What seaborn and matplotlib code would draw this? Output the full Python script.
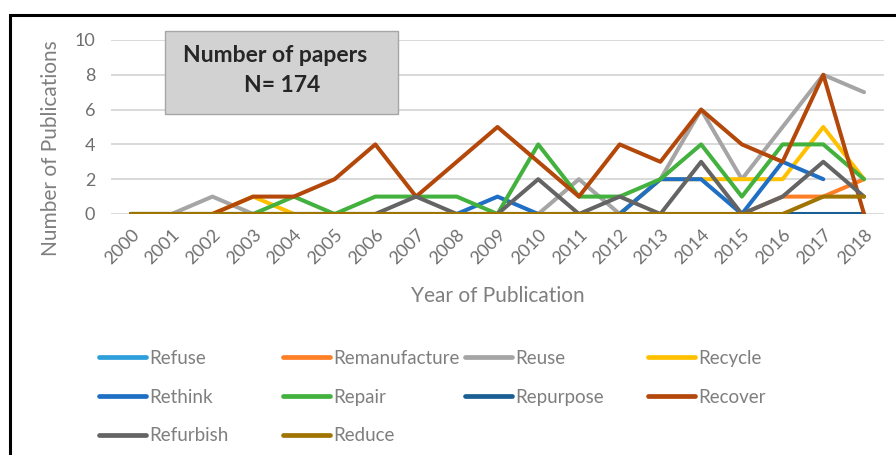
import numpy as np
import pandas as pd
import matplotlib.pyplot as plt
import seaborn as sns
from matplotlib.lines import Line2D
from matplotlib.patches import Rectangle

# ---------------------------
# Data
# ---------------------------
years = [2000, 2001, 2002, 2003, 2004, 2005, 2006, 2007, 2008, 2009,
         2010, 2011, 2012, 2013, 2014, 2015, 2016, 2017, 2018]

refuse        = [0, 0, 0, 0, 0, 0, 0, 0, 0, 0, 0, 0, 0, 0, 0, 0, 0, 0, 0]
remanufacture = [0, 0, 0, 0, 0, 0, 0, 0, 0, 0, 0, 0, 0, 0, 0, 0, 1, 1, 2]
reuse         = [0, 0, 1, 0, 0, 0, 0, 0, 0, 0, 0, 2, 0, 2, 6, 2, 5, 8, 7]
recycle       = [0, 0, 0, 1, 0, 0, 0, 0, 0, 0, 0, 0, 0, 2, 2, 2, 2, 5, 2]
rethink       = [0, 0, 0, 0, 0, 0, 0, 0, 0, 1, 0, 0, 0, 2, 2, 0, 3, 2, np.nan]
repair        = [0, 0, 0, 0, 1, 0, 1, 1, 1, 0, 4, 1, 1, 2, 4, 1, 4, 4, 2]
repurpose     = [0, 0, 0, 0, 0, 0, 0, 0, 0, 0, 0, 0, 0, 0, 0, 0, 0, 0, 0]
recover       = [0, 0, 0, 1, 1, 2, 4, 1, 3, 5, 3, 1, 4, 3, 6, 4, 3, 8, 0]
refurbish     = [0, 0, 0, 0, 0, 0, 0, 1, 0, 0, 2, 0, 1, 0, 3, 0, 1, 3, 1]
reduce        = [0, 0, 0, 0, 0, 0, 0, 0, 0, 0, 0, 0, 0, 0, 0, 0, 0, 1, 1]

series_names = ["Refuse", "Remanufacture", "Reuse", "Recycle", "Rethink",
                "Repair", "Repurpose", "Recover", "Refurbish", "Reduce"]
series_values = [refuse, remanufacture, reuse, recycle, rethink,
                 repair, repurpose, recover, refurbish, reduce]
colors = ["#2E9FDB", "#FF7F27", "#A5A5A5", "#FFC000", "#1F6FC5",
          "#43B13D", "#1A5F94", "#B4480A", "#646464", "#A07400"]

rows = []
for name, vals in zip(series_names, series_values):
    for y, v in zip(years, vals):
        rows.append({"Year": y, "Count": v, "R": name})
df = pd.DataFrame(rows)

# ---------------------------
# Plot
# ---------------------------
sns.set_style("white")
plt.rcParams["font.family"] = ["Lato", "DejaVu Sans"]
txt_gray = "#7F7F7F"

fig = plt.figure(figsize=(8.96, 4.55), dpi=100)
ax = fig.add_axes([110.6 / 896, 1 - 214 / 455, 773.8 / 896, 174 / 455])

sns.lineplot(data=df, x="Year", y="Count", hue="R", hue_order=series_names,
             palette=dict(zip(series_names, colors)), linewidth=2.9,
             errorbar=None, legend=False, ax=ax,
             solid_capstyle="round", solid_joinstyle="round", zorder=3)

ax.set_xlim(1999.5, 2018.5)
ax.set_ylim(0, 10)
ax.set_yticks([0, 2, 4, 6, 8, 10])
ax.set_xticks(years)
ax.set_xticklabels([str(y) for y in years], rotation=45, ha="right",
                   va="top", rotation_mode="anchor")
ax.grid(axis="y", color="#D9D9D9", linewidth=1.4, zorder=0)
ax.set_axisbelow(True)
for s in ax.spines.values():
    s.set_visible(False)
ax.tick_params(axis="both", length=0, labelsize=13, labelcolor="#6F6F6F")
ax.tick_params(axis="y", pad=11)
ax.tick_params(axis="x", pad=9)
ax.set_xlabel("Year of Publication", fontsize=15, color=txt_gray)
ax.set_ylabel("Number of Publications", fontsize=15, color=txt_gray)
# axis titles centred like Excel does (y title sits lower, beside tick labels too)
ax.xaxis.set_label_coords(0.5, -(286 - 214) / 174)
ax.yaxis.set_label_coords((61 - 110.6) / 773.8, (214 - 148) / 174)

# Box with total paper count
ax.add_patch(Rectangle((165 / 896, 1 - 114 / 455), 233 / 896, 83 / 455,
                       transform=fig.transFigure, clip_on=False,
                       facecolor="#D2D2D2", edgecolor="#A6A6A6",
                       linewidth=1, zorder=5))
fig.text(275 / 896, 1 - 55 / 455, "Number of papers", fontsize=16.5,
         fontweight="bold", ha="center", va="center", zorder=6)
fig.text(282 / 896, 1 - 85 / 455, "N= 174", fontsize=16.5,
         fontweight="bold", ha="center", va="center", zorder=6)

# Legend: four equal-width columns, row-wise like the original
col_x = [99, 283, 465, 648]
for c in range(4):
    idx = [i for i in range(c, len(series_names), 4)]
    handles = [Line2D([0], [0], color=colors[i], linewidth=3.4,
                      solid_capstyle="round") for i in idx]
    labels = [series_names[i] for i in idx]
    fig.legend(handles, labels, loc="upper left",
               bbox_to_anchor=(col_x[c] / 896, 1 - 350 / 455),
               frameon=False, fontsize=13.5, labelcolor=txt_gray,
               handlelength=2.5, handletextpad=0.2, labelspacing=1.15,
               borderpad=0, borderaxespad=0)

# Black frame around the figure
fig.add_artist(Rectangle((10 / 896, -0.1), 1.2, 1 - 15 / 455 + 0.1,
                         transform=fig.transFigure, fill=False,
                         edgecolor="black", linewidth=2.2))

plt.savefig("out.png", dpi=100)
